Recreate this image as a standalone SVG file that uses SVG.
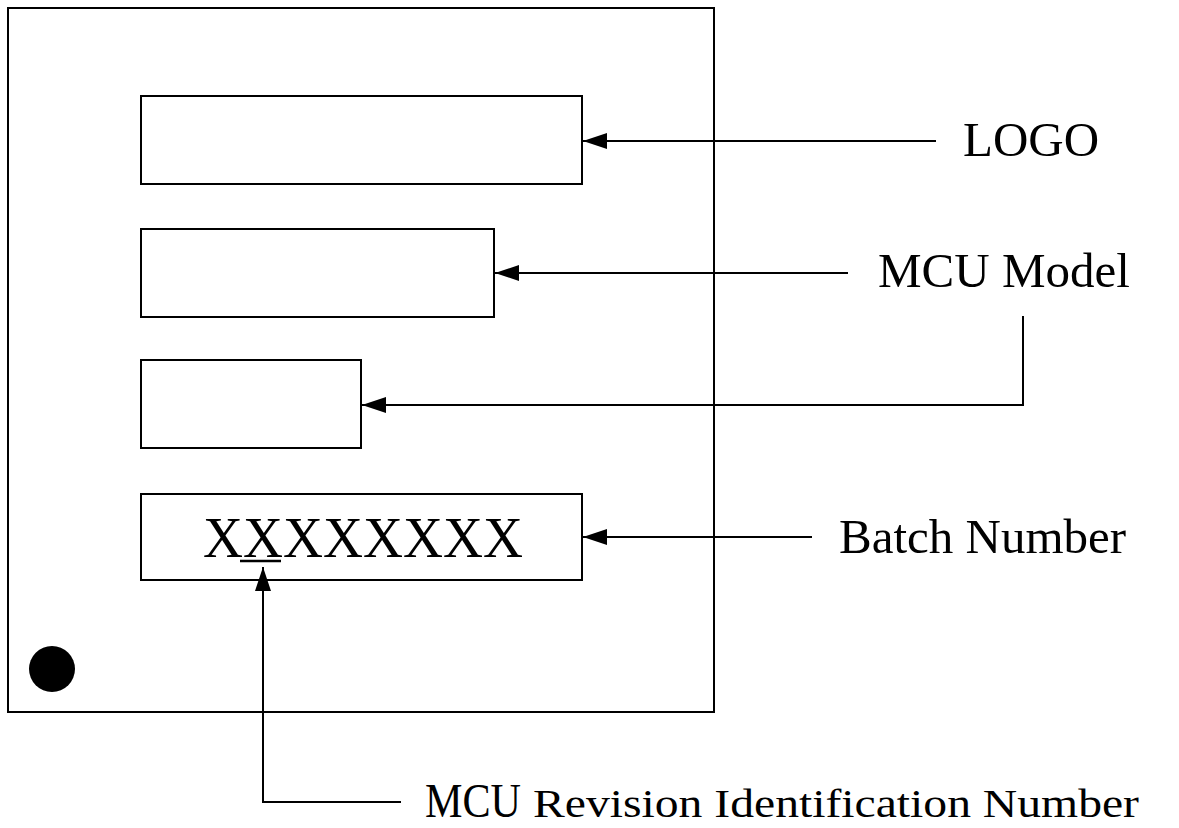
<svg xmlns="http://www.w3.org/2000/svg" width="1179" height="828" viewBox="0 0 1179 828">
<style>
.box{fill:#fff;stroke:#000;stroke-width:2}
.conn{fill:none;stroke:#000;stroke-width:2}
.lbl{font-family:"Liberation Serif","Times New Roman",serif;font-size:49px;fill:#000}
</style>
<defs>
<marker id="arr" viewBox="0 0 24 16" refX="24" refY="8" markerWidth="24" markerHeight="16" markerUnits="userSpaceOnUse" orient="auto">
<path d="M0,0 L24,8 L0,16 z" fill="#000"/>
</marker>
</defs>
<rect width="1179" height="828" fill="#fff"/>
<g id="chip">
<rect class="box" x="8" y="8" width="706" height="704"/>
<circle cx="52" cy="669" r="23" fill="#000"/>
</g>
<g id="logo-field"><rect class="box" x="141" y="96" width="441" height="88"/></g>
<g id="model-field"><rect class="box" x="141" y="229" width="353" height="88"/></g>
<g id="third-field"><rect class="box" x="141" y="360" width="220" height="88"/></g>
<g id="batch-field">
<rect class="box" x="141" y="494" width="441" height="86"/>
<text x="203" y="557" font-family="Liberation Serif, Times New Roman, serif" font-size="57" textLength="320" lengthAdjust="spacingAndGlyphs">XXXXXXXX</text>
<line x1="240" y1="561" x2="281" y2="561" stroke="#000" stroke-width="2.5"/>
</g>
<g id="connectors">
<line class="conn" x1="936" y1="141" x2="583" y2="141" marker-end="url(#arr)"/>
<line class="conn" x1="848" y1="273" x2="495" y2="273" marker-end="url(#arr)"/>
<polyline class="conn" points="1023,316 1023,405 362,405" marker-end="url(#arr)"/>
<line class="conn" x1="812" y1="537" x2="583" y2="537" marker-end="url(#arr)"/>
<polyline class="conn" points="401,802 263,802 263,567" marker-end="url(#arr)"/>
</g>
<g id="labels">
<text class="lbl" x="963" y="156">LOGO</text>
<text class="lbl" x="878" y="287">MCU Model</text>
<text class="lbl" x="839" y="553">Batch Number</text>
<text x="425" y="817" font-family="Liberation Serif, Times New Roman, serif" font-size="48" textLength="96" lengthAdjust="spacingAndGlyphs">MCU</text>
<text x="533" y="817" font-family="Liberation Serif, Times New Roman, serif" font-size="41" textLength="606" lengthAdjust="spacingAndGlyphs">Revision Identification Number</text>
</g>
</svg>
